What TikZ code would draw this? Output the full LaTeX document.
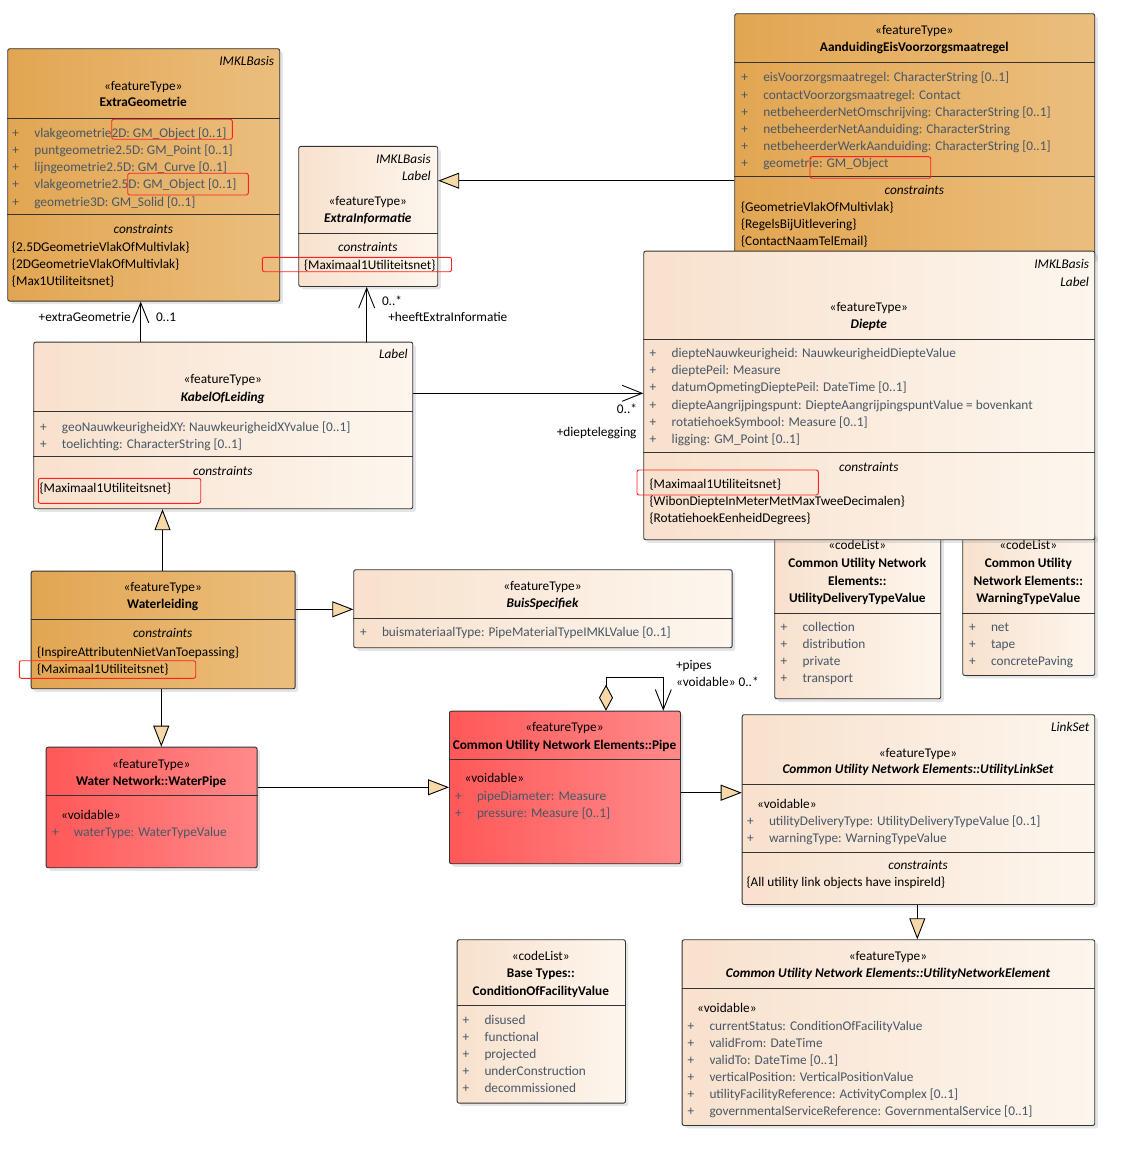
\documentclass[tikz,border=0pt]{standalone}
\usepackage{fontspec}
\setmainfont{Carlito}
\usetikzlibrary{arrows.meta, shadows, positioning}

\definecolor{orgL}{HTML}{E2A652}
\definecolor{orgR}{HTML}{EBBE7E}
\definecolor{lightL}{HTML}{F8E1CD}
\definecolor{lightR}{HTML}{FDF6EE}
\definecolor{redL}{HTML}{FF5858}
\definecolor{redR}{HTML}{FF8A8A}
\definecolor{attrgray}{HTML}{485766}
\definecolor{genfill}{HTML}{F7D9A9}
\definecolor{markred}{HTML}{FF2020}

\newcommand{\umlsize}{\fontsize{13.3}{17}\selectfont}

\tikzset{
  cls/.style={draw=black!80, line width=0.9pt, rounded corners=2pt, anchor=north west,
    inner sep=0pt, drop shadow={shadow xshift=3pt, shadow yshift=-3pt, opacity=0.2}},
  orangecls/.style={cls, left color=orgL, right color=orgR},
  lightcls/.style={cls, left color=lightL, right color=lightR},
  redcls/.style={cls, left color=redL, right color=redR},
  sep/.style={line width=0.9pt, draw=black!80},
  txt/.style={inner sep=0pt, outer sep=0pt, yshift=-1pt, font=\umlsize},
  attr/.style={txt, anchor=base west, text=attrgray},
  cons/.style={txt, anchor=base west},
  stereo/.style={txt, anchor=base},
  title/.style={txt, anchor=base, font=\umlsize\bfseries},
  ititle/.style={txt, anchor=base, font=\umlsize\bfseries\itshape},
  cstitle/.style={txt, anchor=base, font=\umlsize\itshape},
  tag/.style={txt, anchor=base east, font=\umlsize\itshape},
  role/.style={txt},
  gen/.style={line width=0.9pt, -{Triangle[length=21pt, width=16pt, fill=genfill]}},
  nav/.style={line width=0.9pt, -{Straight Barb[length=20pt, width=16pt]}},
  agg/.style={line width=0.9pt,
    {Diamond[length=26pt, width=14pt, fill=genfill]}-{Straight Barb[length=20pt, width=16pt]}},
  redmark/.style={draw=markred, line width=0.9pt, rounded corners=2pt}
}

% class box: name, style, x, y, width, height
\newcommand{\umlbox}[6]{\node[#2, minimum width=#5pt, minimum height=#6pt] (#1) at (#3,#4) {};}
% compartment line across a box
\newcommand{\umlsep}[2]{\coordinate (sepy) at (0,#2); \draw[sep] (#1.west |- sepy) -- (#1.east |- sepy);}
% attribute rows: name, x, first baseline, items
\newcommand{\umlattrs}[4]{\foreach \txt [count=\k from 0] in {#4}
  {\node[attr] (#1-\k) at (#2, #3+17.1*\k) {\makebox[22pt][l]{+}\txt};}}
% constraint rows
\newcommand{\umlcons}[4]{\foreach \txt [count=\k from 0] in {#4}
  {\node[cons] (#1-\k) at (#2, #3+17.1*\k) {\txt};}}

\begin{document}
\begin{tikzpicture}[x=1pt, y=-1pt]
  \path[fill=white, use as bounding box] (0,0) rectangle (1139,1169);

  % ExtraGeometrie
  \umlbox{extrageo}{orangecls}{7.3}{48.3}{272}{252.4}
  \node[tag] (extrageo-pkg) at (274,65) {IMKLBasis};
  \node[stereo] (extrageo-st) at (143.3,89.3) {«featureType»};
  \node[title] (extrageo-nm) at (143.3,106) {ExtraGeometrie};
  \umlsep{extrageo}{118.7}
  \umlattrs{extrageo-a}{12.3}{136.7}{vlakgeometrie2D: GM\_Object [0..1],
    puntgeometrie2.5D: GM\_Point [0..1], lijngeometrie2.5D: GM\_Curve [0..1],
    vlakgeometrie2.5D: GM\_Object [0..1], geometrie3D: GM\_Solid [0..1]}
  \umlsep{extrageo}{214}
  \node[cstitle] (extrageo-ct) at (143.3,232.7) {constraints};
  \umlcons{extrageo-c}{12}{250}{\{2.5DGeometrieVlakOfMultivlak\},
    \{2DGeometrieVlakOfMultivlak\}, \{Max1Utiliteitsnet\}}

  % ExtraInformatie
  \umlbox{extrainfo}{lightcls}{298.3}{146}{139}{140}
  \node[tag] (extrainfo-pkg) at (430.7,162.7) {IMKLBasis};
  \node[tag] (extrainfo-lbl) at (430.7,179.3) {Label};
  \node[stereo] (extrainfo-st) at (367.8,204.3) {«featureType»};
  \node[ititle] (extrainfo-nm) at (367.8,221.7) {ExtraInformatie};
  \umlsep{extrainfo}{233.3}
  \node[cstitle] (extrainfo-ct) at (367.8,250.7) {constraints};
  \umlcons{extrainfo-c}{304}{268.3}{\{Maximaal1Utiliteitsnet\}}

  % AanduidingEisVoorzorgsmaatregel
  \umlbox{aand}{orangecls}{734.3}{13.3}{360}{245}
  \node[stereo] (aand-st) at (914.3,34) {«featureType»};
  \node[title] (aand-nm) at (914.3,50.7) {AanduidingEisVoorzorgsmaatregel};
  \umlsep{aand}{62.3}
  \umlattrs{aand-a}{741.3}{81}{eisVoorzorgsmaatregel: CharacterString [0..1],
    contactVoorzorgsmaatregel: Contact,
    netbeheerderNetOmschrijving: CharacterString [0..1],
    netbeheerderNetAanduiding: CharacterString,
    netbeheerderWerkAanduiding: CharacterString [0..1], geometrie: GM\_Object}
  \umlsep{aand}{176}
  \node[cstitle] (aand-ct) at (914.3,193.3) {constraints};
  \umlcons{aand-c}{741}{210.7}{\{GeometrieVlakOfMultivlak\},
    \{RegelsBijUitlevering\}, \{ContactNaamTelEmail\}}

  % code lists under Diepte
  \umlbox{udtv}{lightcls}{774.3}{533}{166}{165.3}
  \node[stereo] (udtv-st) at (857.3,548.3) {«codeList»};
  \node[title] (udtv-n1) at (857.3,566.7) {Common Utility Network};
  \node[title] (udtv-n2) at (857.3,584) {Elements::};
  \node[title] (udtv-n3) at (857.3,601.7) {UtilityDeliveryTypeValue};
  \umlsep{udtv}{613.3}
  \umlattrs{udtv-a}{780.7}{630}{collection, distribution, private, transport}

  \umlbox{wtv}{lightcls}{962.3}{533}{132}{142}
  \node[stereo] (wtv-st) at (1028.3,548.3) {«codeList»};
  \node[title] (wtv-n1) at (1028.3,566.7) {Common Utility};
  \node[title] (wtv-n2) at (1028.3,584) {Network Elements::};
  \node[title] (wtv-n3) at (1028.3,601.7) {WarningTypeValue};
  \umlsep{wtv}{613.3}
  \umlattrs{wtv-a}{969}{630}{net, tape, concretePaving}

  % Diepte
  \umlbox{diepte}{lightcls}{643.3}{250.7}{451}{288.6}
  \node[tag] (diepte-pkg) at (1089,267.3) {IMKLBasis};
  \node[tag] (diepte-lbl) at (1089,285.3) {Label};
  \node[stereo] (diepte-st) at (868.8,310.7) {«featureType»};
  \node[ititle] (diepte-nm) at (868.8,327.3) {Diepte};
  \umlsep{diepte}{339.3}
  \umlattrs{diepte-a}{649.7}{356.7}{diepteNauwkeurigheid: NauwkeurigheidDiepteValue,
    dieptePeil: Measure, datumOpmetingDieptePeil: DateTime [0..1],
    diepteAangrijpingspunt: DiepteAangrijpingspuntValue = bovenkant,
    rotatiehoekSymbool: Measure [0..1], ligging: GM\_Point [0..1]}
  \umlsep{diepte}{452}
  \node[cstitle] (diepte-ct) at (868.8,470.7) {constraints};
  \umlcons{diepte-c}{649.5}{487.3}{\{Maximaal1Utiliteitsnet\},
    \{WibonDiepteInMeterMetMaxTweeDecimalen\}, \{RotatiehoekEenheidDegrees\}}

  % KabelOfLeiding
  \umlbox{kabel}{lightcls}{33.3}{341.7}{379}{166.6}
  \node[tag] (kabel-lbl) at (407.7,357.3) {Label};
  \node[stereo] (kabel-st) at (222.8,382.7) {«featureType»};
  \node[ititle] (kabel-nm) at (222.8,400) {KabelOfLeiding};
  \umlsep{kabel}{411.7}
  \umlattrs{kabel-a}{40}{430}{geoNauwkeurigheidXY: NauwkeurigheidXYvalue [0..1],
    toelichting: CharacterString [0..1]}
  \umlsep{kabel}{456}
  \node[cstitle] (kabel-ct) at (222.8,474.3) {constraints};
  \umlcons{kabel-c}{39.5}{491.7}{\{Maximaal1Utiliteitsnet\}}

  % Waterleiding
  \umlbox{waterl}{orangecls}{30.7}{570.7}{264}{117.6}
  \node[stereo] (waterl-st) at (162.7,590.7) {«featureType»};
  \node[title] (waterl-nm) at (162.7,607.3) {Waterleiding};
  \umlsep{waterl}{619.3}
  \node[cstitle] (waterl-ct) at (162.7,636.7) {constraints};
  \umlcons{waterl-c}{37}{655}{\{InspireAttributenNietVanToepassing\},
    \{Maximaal1Utiliteitsnet\}}

  % BuisSpecifiek
  \umlbox{buis}{lightcls}{353.3}{569.3}{378.4}{78}
  \node[stereo] (buis-st) at (542.5,589.3) {«featureType»};
  \node[ititle] (buis-nm) at (542.5,606) {BuisSpecifiek};
  \umlsep{buis}{618.3}
  \umlattrs{buis-a}{360}{635}{buismateriaalType: PipeMaterialTypeIMKLValue [0..1]}

  % Water Network::WaterPipe
  \umlbox{wpipe}{redcls}{45.7}{746.7}{211}{120.6}
  \node[stereo] (wpipe-st) at (151.2,767.3) {«featureType»};
  \node[title] (wpipe-nm) at (151.2,784) {Water Network::WaterPipe};
  \umlsep{wpipe}{795.7}
  \node[cons] (wpipe-vd) at (61,818.3) {«voidable»};
  \umlattrs{wpipe-a}{52}{835.7}{waterType: WaterTypeValue}

  % Common Utility Network Elements::Pipe
  \umlbox{pipe}{redcls}{449}{710.7}{231}{152.6}
  \node[stereo] (pipe-st) at (564.5,730.7) {«featureType»};
  \node[title] (pipe-nm) at (564.5,748.3) {Common Utility Network Elements::Pipe};
  \umlsep{pipe}{759.3}
  \node[cons] (pipe-vd) at (464.5,781.7) {«voidable»};
  \umlattrs{pipe-a}{455}{799}{pipeDiameter: Measure, pressure: Measure [0..1]}

  % Common Utility Network Elements::UtilityLinkSet
  \umlbox{linkset}{lightcls}{741.7}{714.3}{352.6}{189.7}
  \node[tag] (linkset-lbl) at (1089.3,730) {LinkSet};
  \node[stereo] (linkset-st) at (918,756) {«featureType»};
  \node[ititle] (linkset-nm) at (918,772.7) {Common Utility Network Elements::UtilityLinkSet};
  \umlsep{linkset}{784.3}
  \node[cons] (linkset-vd) at (757,807.3) {«voidable»};
  \umlattrs{linkset-a}{747}{824}{utilityDeliveryType: UtilityDeliveryTypeValue [0..1],
    warningType: WarningTypeValue}
  \umlsep{linkset}{852.7}
  \node[cstitle] (linkset-ct) at (918,868.3) {constraints};
  \umlcons{linkset-c}{746.5}{885.7}{\{All utility link objects have inspireId\}}

  % Base Types::ConditionOfFacilityValue
  \umlbox{cofv}{lightcls}{456.7}{939.3}{168.3}{163.4}
  \node[stereo] (cofv-st) at (540.8,959.3) {«codeList»};
  \node[title] (cofv-n1) at (540.8,976.7) {Base Types::};
  \node[title] (cofv-n2) at (540.8,994.3) {ConditionOfFacilityValue};
  \umlsep{cofv}{1005.3}
  \umlattrs{cofv-a}{462.5}{1023.3}{disused, functional, projected,
    underConstruction, decommissioned}

  % Common Utility Network Elements::UtilityNetworkElement
  \umlbox{une}{lightcls}{681.7}{939.3}{412.6}{185.7}
  \node[stereo] (une-st) at (888,959.3) {«featureType»};
  \node[ititle] (une-nm) at (888,976.7) {Common Utility Network Elements::UtilityNetworkElement};
  \umlsep{une}{988.3}
  \node[cons] (une-vd) at (697,1011.7) {«voidable»};
  \umlattrs{une-a}{687.5}{1029}{currentStatus: ConditionOfFacilityValue,
    validFrom: DateTime, validTo: DateTime [0..1],
    verticalPosition: VerticalPositionValue,
    utilityFacilityReference: ActivityComplex [0..1],
    governmentalServiceReference: GovernmentalService [0..1]}

  % Generalizations
  \coordinate (yAand) at (0,180.7);
  \draw[gen] (aand.west |- yAand) -- (extrainfo.east |- yAand);
  \coordinate (xWl) at (162.5,0);
  \draw[gen] (waterl.north -| xWl) -- (kabel.south -| xWl);
  \coordinate (xWp) at (161.3,0);
  \draw[gen] (waterl.south -| xWp) -- (wpipe.north -| xWp);
  \coordinate (yBuis) at (0,609.3);
  \draw[gen] (waterl.east |- yBuis) -- (buis.west |- yBuis);
  \coordinate (yWp) at (0,787.3);
  \draw[gen] (wpipe.east |- yWp) -- (pipe.west |- yWp);
  \coordinate (yPipe) at (0,792.7);
  \draw[gen] (pipe.east |- yPipe) -- (linkset.west |- yPipe);
  \coordinate (xLs) at (917.3,0);
  \draw[gen] (linkset.south -| xLs) -- (une.north -| xLs);

  % Associations
  \coordinate (xEg) at (140.7,0);
  \draw[nav] (kabel.north -| xEg) -- (extrageo.south -| xEg);
  \node[role, anchor=base east] (eg-role) at (130.7,320.7) {+extraGeometrie};
  \node[role, anchor=base west] (eg-mult) at (156,320.7) {0..1};
  \coordinate (xEi) at (366.7,0);
  \draw[nav] (kabel.north -| xEi) -- (extrainfo.south -| xEi);
  \node[role, anchor=base west] (ei-mult) at (382,304) {0..*};
  \node[role, anchor=base west] (ei-role) at (388.3,320.7) {+heeftExtraInformatie};
  \coordinate (yDp) at (0,393.3);
  \draw[nav] (kabel.east |- yDp) -- (diepte.west |- yDp);
  \node[role, anchor=base east] (dp-mult) at (637,412) {0..*};
  \node[role, anchor=base east] (dp-role) at (636.5,435) {+dieptelegging};
  % Pipe self aggregation
  \coordinate (loopL) at (606,677.3);
  \coordinate (loopR) at (663.3,677.3);
  \draw[agg] (pipe.north -| loopL) -- (loopL) -- (loopR) -- (pipe.north -| loopR);
  \node[role, anchor=base west] (p-role) at (676,668.3) {+pipes};
  \node[role, anchor=base west] (p-mult) at (676,685) {«voidable» 0..*};

  % red highlights
  \draw[redmark] (111.7,119.3) rectangle (232.3,139.3);
  \draw[redmark] (127.7,173.3) rectangle (248.3,195);
  \draw[redmark] (262.3,257.3) rectangle (451.5,271.7);
  \draw[redmark] (810,156.7) rectangle (930.7,178.3);
  \draw[redmark] (637,470) rectangle (818.3,495);
  \draw[redmark] (38.3,478.3) rectangle (200.7,503.3);
  \draw[redmark] (19.3,660.7) rectangle (195.7,678.3);
\end{tikzpicture}
\end{document}
